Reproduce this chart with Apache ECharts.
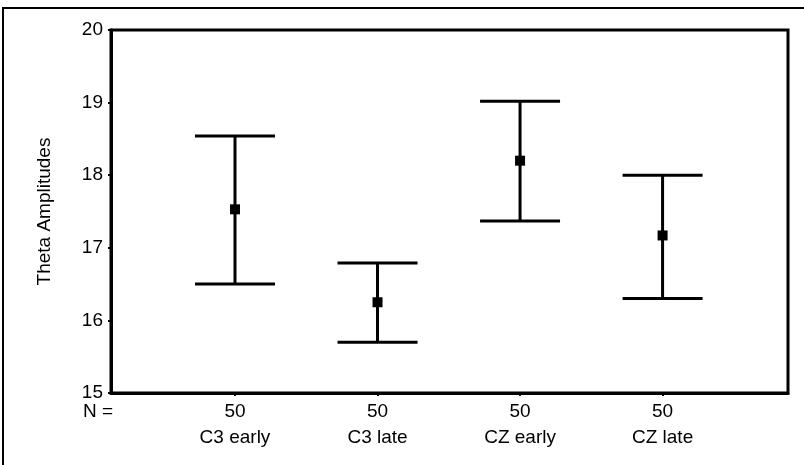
<!DOCTYPE html>
<html lang="en">
<head>
<meta charset="UTF-8" />
<title>Theta Amplitudes</title>
<script src="https://cdn.jsdelivr.net/npm/echarts@6/dist/echarts.min.js"></script>
<style>
  html, body { margin: 0; padding: 0; background: #fff; }
  #main { width: 804px; height: 465px; }
</style>
</head>
<body>
<div id="main"></div>
<script type="text/javascript">
// data
var groups = ['C3 early', 'C3 late', 'CZ early', 'CZ late'];
var counts = [50, 50, 50, 50];
var means = [17.53, 16.25, 18.20, 17.17];
var lows = [16.50, 15.70, 17.37, 16.30];
var highs = [18.54, 16.79, 19.02, 18.00];
var yTicks = [15, 16, 17, 18, 19, 20];

var positions = groups.map(function (g, i) { return i + 1; });
var barData = groups.map(function (g, i) {
  return [positions[i], lows[i], highs[i], means[i]];
});

var font = 'Liberation Sans, Arial, Helvetica, sans-serif';
var myChart = echarts.init(document.getElementById('main'));

var option = {
  animation: false,
  backgroundColor: '#fff',
  grid: {
    left: 111, right: 16, top: 30, bottom: 72,
    show: true, borderColor: '#000', borderWidth: 3
  },
  xAxis: {
    type: 'value',
    min: 0.13,
    max: 4.88,
    splitLine: { show: false },
    axisLine: { show: true, lineStyle: { color: '#000', width: 3 } },
    axisTick: { show: true, customValues: positions, length: 3, lineStyle: { color: '#000', width: 2 } },
    axisLabel: {
      customValues: positions,
      margin: 6,
      color: '#000',
      fontFamily: font,
      fontSize: 19,
      lineHeight: 26,
      formatter: function (v) {
        var i = Math.round(v) - 1;
        return counts[i] + '\n' + groups[i];
      }
    }
  },
  yAxis: {
    type: 'value',
    min: yTicks[0],
    max: yTicks[yTicks.length - 1],
    interval: 1,
    name: 'Theta Amplitudes',
    nameLocation: 'middle',
    nameGap: 57,
    nameTextStyle: { color: '#000', fontFamily: font, fontSize: 19 },
    splitLine: { show: false },
    axisLine: { show: true, lineStyle: { color: '#000', width: 3 } },
    axisTick: { show: true, length: 3, lineStyle: { color: '#000', width: 2 } },
    axisLabel: { color: '#000', fontFamily: font, fontSize: 19, margin: 8 }
  },
  graphic: [
    {
      type: 'rect',
      shape: { x: 3, y: 8, width: 820, height: 480 },
      style: { fill: 'none', stroke: '#000', lineWidth: 2 },
      silent: true
    },
    {
      type: 'text',
      left: 83,
      top: 402,
      style: { text: 'N =', fill: '#000', font: '19px ' + font }
    }
  ],
  series: [
    {
      type: 'custom',
      data: barData,
      renderItem: function (params, api) {
        var x = api.value(0);
        var lo = api.coord([x, api.value(1)]);
        var hi = api.coord([x, api.value(2)]);
        var mid = api.coord([x, api.value(3)]);
        var half = 40;
        var st = { stroke: '#000', lineWidth: 3 };
        return {
          type: 'group',
          children: [
            { type: 'line', shape: { x1: hi[0], y1: hi[1], x2: lo[0], y2: lo[1] }, style: st },
            { type: 'line', shape: { x1: hi[0] - half, y1: hi[1], x2: hi[0] + half, y2: hi[1] }, style: st },
            { type: 'line', shape: { x1: lo[0] - half, y1: lo[1], x2: lo[0] + half, y2: lo[1] }, style: st },
            { type: 'rect', shape: { x: mid[0] - 5, y: mid[1] - 5, width: 10, height: 10 }, style: { fill: '#000' } }
          ]
        };
      }
    }
  ]
};

myChart.setOption(option);
</script>
</body>
</html>
